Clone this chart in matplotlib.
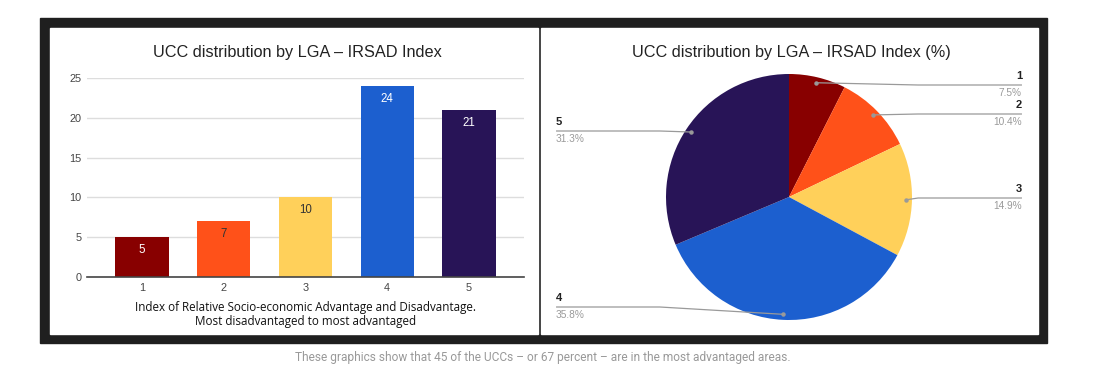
import numpy as np
import matplotlib
matplotlib.use("Agg")
import matplotlib.pyplot as plt
from matplotlib.patches import Rectangle

# data
categories = ["1", "2", "3", "4", "5"]
counts = [5, 7, 10, 24, 21]
colors = ["#880000", "#ff5119", "#ffd05a", "#1c5fcf", "#281457"]
label_colors = ["#ffffff", "#333333", "#333333", "#ffffff", "#ffffff"]
yticks = [0, 5, 10, 15, 20, 25]

bar_title = "UCC distribution by LGA \u2013 IRSAD Index"
pie_title = "UCC distribution by LGA \u2013 IRSAD Index (%)"
xlabel = "Index of Relative Socio-economic Advantage and Disadvantage.\nMost disadvantaged to most advantaged"
caption = "These graphics show that 45 of the UCCs \u2013 or 67 percent \u2013 are in the most advantaged areas."

W, H = 1097, 380


def px(x0, y0, x1, y1):
    # pixel box -> figure fraction [left, bottom, width, height]
    return [x0 / W, 1 - y1 / H, (x1 - x0) / W, (y1 - y0) / H]


fig = plt.figure(figsize=(W / 100, H / 100), dpi=100)
fig.patch.set_facecolor("white")

# dark frame and white panels (behind the axes)
b = px(40, 18, 1047, 343)
fig.patches.append(Rectangle((b[0], b[1]), b[2], b[3], transform=fig.transFigure,
                             color="#1f1f1f", zorder=-2))
for box in [(50, 28, 538, 334), (541, 28, 1038, 334)]:
    b = px(*box)
    fig.patches.append(Rectangle((b[0], b[1]), b[2], b[3], transform=fig.transFigure,
                                 color="white", zorder=-1))

# ---- bar chart
ax = fig.add_axes(px(87, 78, 524, 277))
ax.set_zorder(5)
ax.set_facecolor("none")
x = np.arange(1, len(counts) + 1)
bars = ax.bar(x, counts, width=0.65, color=colors, zorder=3)
for xi, v, c in zip(x, counts, label_colors):
    ax.annotate(str(v), (xi, v), xytext=(0, -5), textcoords="offset points",
                ha="center", va="top", fontsize=8.3, color=c,
                family="Liberation Sans", zorder=4)
ax.set_xlim(0.327, 5.673)
ax.set_ylim(0, 25)
ax.set_yticks(yticks)
ax.set_xticks(x)
ax.set_xticklabels(categories)
ax.grid(axis="y", color="#dddddd", linewidth=1, zorder=0)
ax.axhline(0, color="#444444", linewidth=1.2, zorder=4, clip_on=False)
for s in ax.spines.values():
    s.set_visible(False)
ax.tick_params(length=0, labelsize=7.8, labelcolor="#444444", pad=4)
for t in ax.get_xticklabels() + ax.get_yticklabels():
    t.set_family("Liberation Sans")
ax.set_xlabel(xlabel, fontsize=8.4, family="Open Sans", color="#111111",
              linespacing=1.15, labelpad=6)
fig.text(297 / W, 1 - 53 / H, bar_title, ha="center", va="center",
         fontsize=11.7, family="Liberation Sans", color="#222222")

# ---- pie chart
R = 123.0
cx, cy = 789, 197
x0, x1, y0, y1 = 541, 1038, 28, 334
pa = fig.add_axes(px(x0, y0, x1, y1))
pa.set_zorder(5)
wedges, _ = pa.pie(counts, colors=colors, startangle=90, counterclock=False,
                   radius=1.0, center=(0, 0), frame=True,
                   wedgeprops=dict(linewidth=0))
pa.set_xlim((x0 - cx) / R, (x1 - cx) / R)
pa.set_ylim((cy - y1) / R, (cy - y0) / R)
pa.set_aspect("auto")
pa.axis("off")

total = sum(counts)
pcts = [100 * v / total for v in counts]
# label line heights (pixels) and side
line_y_px = [85, 114, 198, 307, 131]
side = [1, 1, 1, -1, -1]
label_x = 1.894
cum = 0
for i, v in enumerate(counts):
    mid = 90 - (cum + v / 2) / total * 360
    cum += v
    dx, dy = 0.955 * np.cos(np.radians(mid)), 0.955 * np.sin(np.radians(mid))
    ly = (cy - line_y_px[i]) / R
    s = side[i]
    pa.plot([dx, s * 1.05, s * label_x], [dy, ly, ly], color="#9a9a9a", lw=0.9,
            solid_capstyle="butt")
    pa.plot([dx], [dy], "o", color="#9a9a9a", ms=2.2)
    ha = "right" if s > 0 else "left"
    pa.text(s * label_x, ly + 0.03, categories[i], ha=ha, va="bottom", fontsize=8,
            color="#222222", family="Liberation Sans", fontweight="bold")
    pa.text(s * label_x, ly - 0.025, f"{pcts[i]:.1f}%", ha=ha, va="top", fontsize=7.3,
            color="#9a9a9a", family="Liberation Sans")
fig.text(791 / W, 1 - 53 / H, pie_title, ha="center", va="center",
         fontsize=11.7, family="Liberation Sans", color="#222222")

# caption
fig.text(543 / W, 1 - 358 / H, caption, ha="center", va="center", fontsize=8.6,
         family="Roboto", color="#999999")

fig.savefig("out.png", dpi=100, facecolor="white")
